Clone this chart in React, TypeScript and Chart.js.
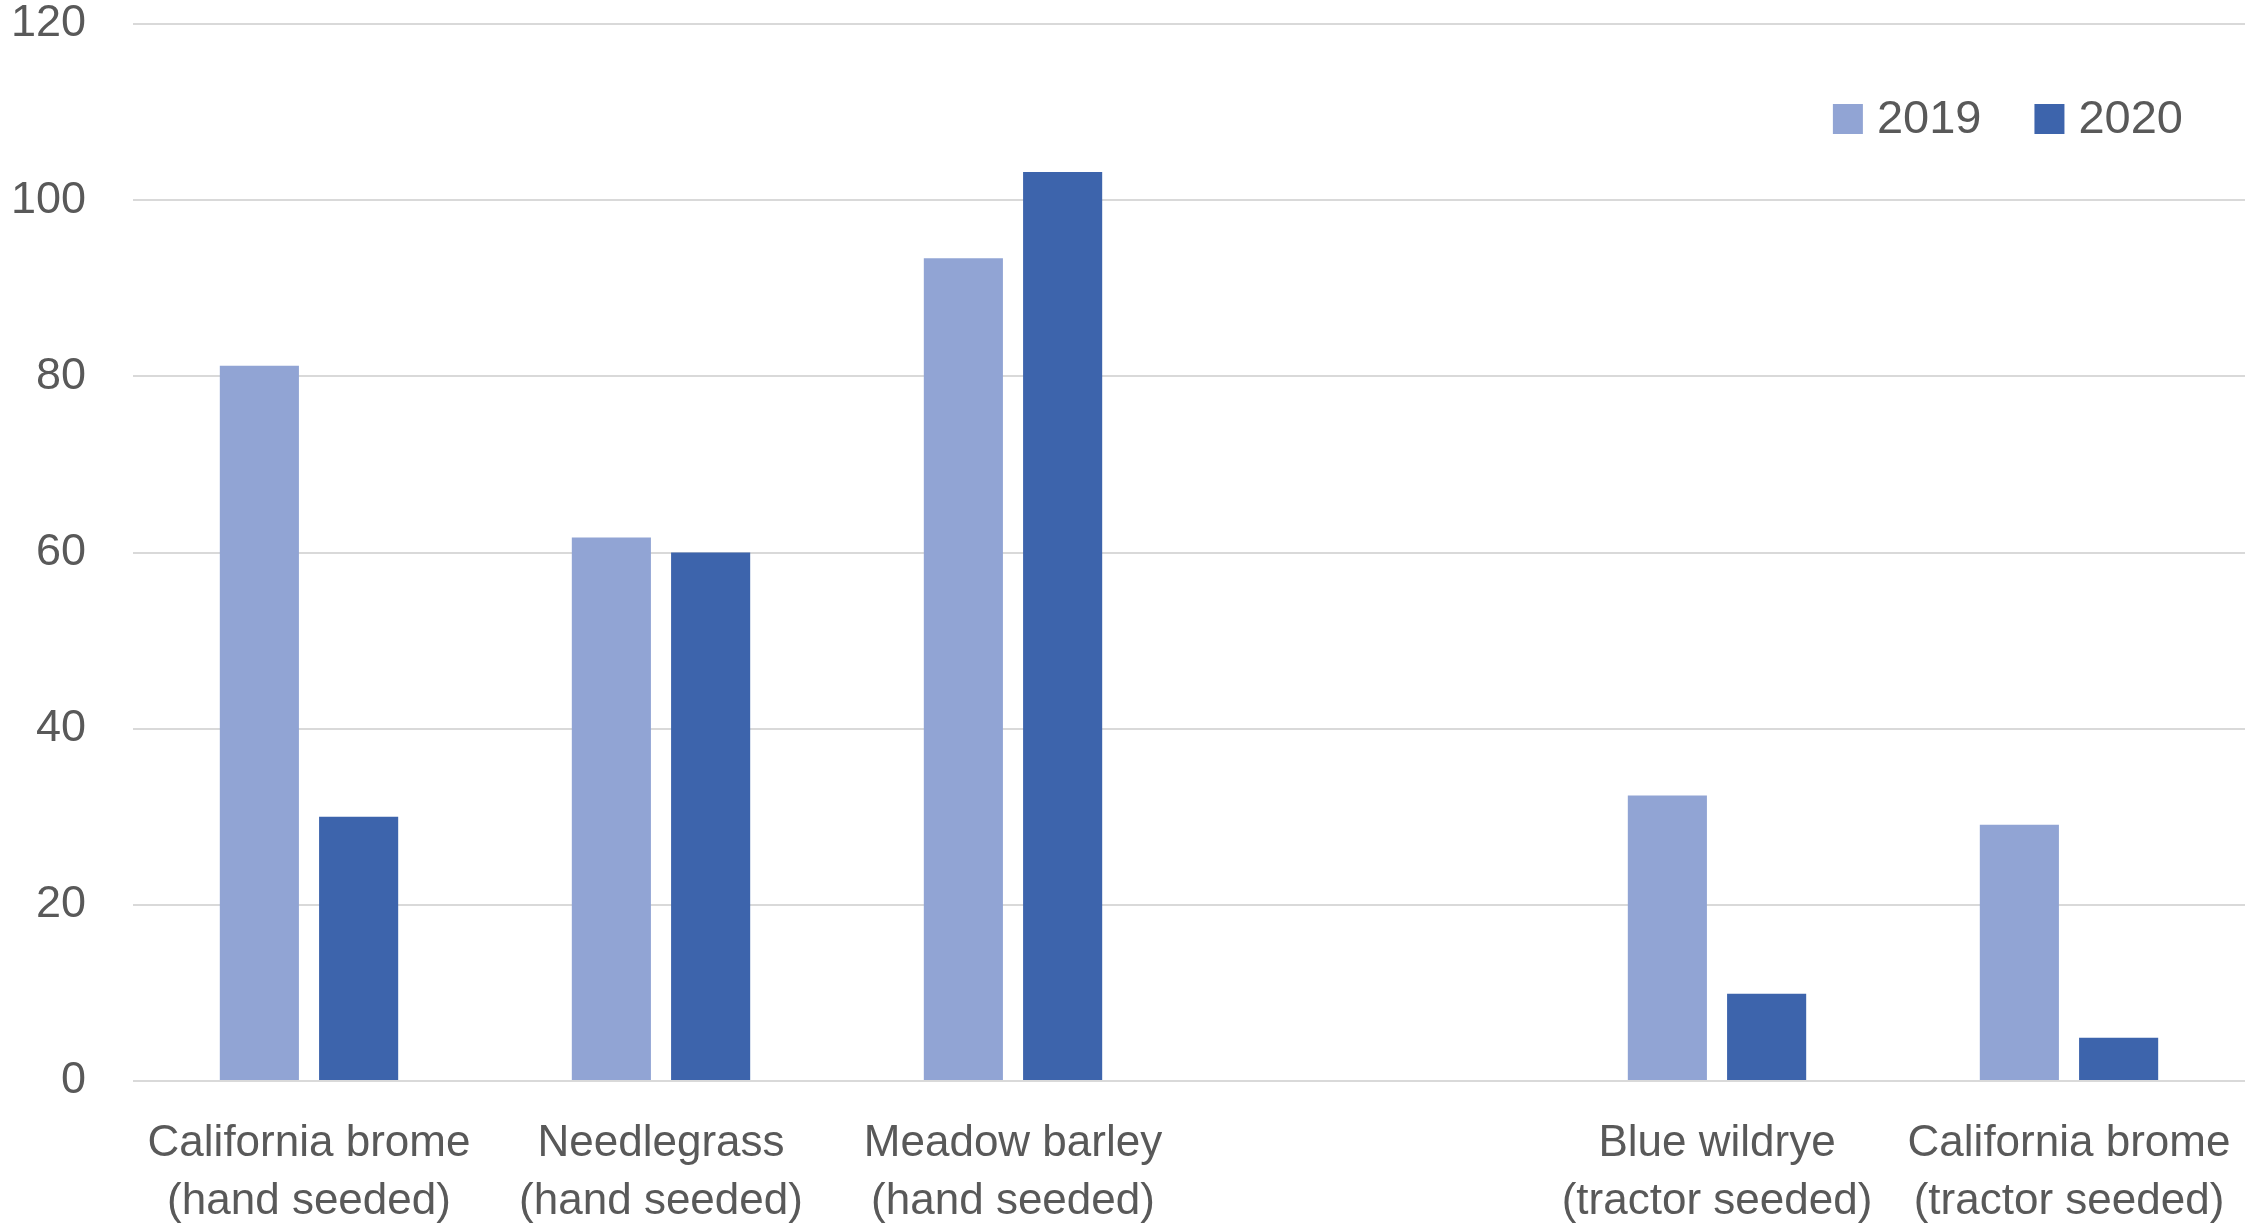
import React, { useEffect, useRef } from "react";
import { Chart, registerables } from "chart.js";

Chart.register(...registerables);

const categories: string[][] = [
  ["California brome", "(hand seeded)"],
  ["Needlegrass", "(hand seeded)"],
  ["Meadow barley", "(hand seeded)"],
  [""],
  ["Blue wildrye", "(tractor seeded)"],
  ["California brome", "(tractor seeded)"],
];
const seriesNames = ["2019", "2020"];
const values2019: (number | null)[] = [81.2, 61.7, 93.4, null, 32.4, 29.1];
const values2020: (number | null)[] = [30, 60, 103.2, null, 9.9, 4.9];
const yTicks = { min: 0, max: 120, step: 20 };

const COLOR_2019 = "#91A4D4";
const COLOR_2020 = "#3D64AC";
const TEXT = "#595959";
const FONT = "'Liberation Sans', Arial, sans-serif";

const insideLegend = {
  id: "insideLegend",
  afterDraw(chart: any) {
    const { ctx, chartArea } = chart;
    ctx.save();
    ctx.font = `47px ${FONT}`;
    ctx.textBaseline = "middle";
    ctx.textAlign = "left";
    const box = 30;
    const gap = 14;
    const spacing = 53;
    const items = chart.data.datasets.map((d: any) => ({
      text: d.label,
      color: d.backgroundColor,
      w: box + gap + ctx.measureText(d.label).width,
    }));
    const total = items.reduce((s: number, it: any) => s + it.w, 0) + spacing * (items.length - 1);
    let x = chartArea.right - 62 - total;
    const top = chartArea.top + 80;
    for (const it of items) {
      ctx.fillStyle = it.color;
      ctx.fillRect(x, top, box, box);
      ctx.fillStyle = TEXT;
      ctx.fillText(it.text, x + box + gap, top + box / 2 + 1);
      x += it.w + spacing;
    }
    ctx.restore();
  },
};

export default function App() {
  const ref = useRef<HTMLCanvasElement | null>(null);
  useEffect(() => {
    if (!ref.current) return;
    const chart = new Chart(ref.current, {
      type: "bar",
      data: {
        labels: categories,
        datasets: [
          { label: seriesNames[0], data: values2019, backgroundColor: COLOR_2019 },
          { label: seriesNames[1], data: values2020, backgroundColor: COLOR_2020 },
        ],
      },
      plugins: [insideLegend],
      options: {
        responsive: false,
        animation: false,
        devicePixelRatio: 1,
        layout: { padding: { top: 24, right: 14, bottom: 0, left: 0 } },
        datasets: {
          bar: { categoryPercentage: 0.564, barPercentage: 0.797 },
        },
        plugins: {
          legend: { display: false },
          tooltip: { enabled: false },
          title: { display: false },
        },
        scales: {
          x: {
            grid: { display: false, drawTicks: false },
            border: { display: false },
            ticks: {
              color: TEXT,
              font: { family: FONT, size: 44, lineHeight: 1.32 },
              padding: 34,
              maxRotation: 0,
              autoSkip: false,
            },
            afterFit: (scale: any) => {
              scale.height = 145;
              scale.paddingLeft = 0;
              scale.paddingRight = 0;
            },
          },
          y: {
            min: yTicks.min,
            max: yTicks.max,
            grid: { color: "#D9D9D9", lineWidth: 2, drawTicks: false },
            border: { display: false },
            ticks: {
              stepSize: yTicks.step,
              color: TEXT,
              font: { family: FONT, size: 45, lineHeight: 1.0 },
              padding: 47,
            },
            afterFit: (scale: any) => {
              scale.width = 133;
              scale.paddingTop = 0;
              scale.paddingBottom = 0;
            },
          },
        },
      },
    });
    return () => chart.destroy();
  }, []);
  return (
    <div style={{ position: "fixed", left: 0, top: 0, width: 2259, height: 1226, background: "#fff" }}>
      <canvas ref={ref} width={2259} height={1226} style={{ display: "block" }} />
    </div>
  );
}
